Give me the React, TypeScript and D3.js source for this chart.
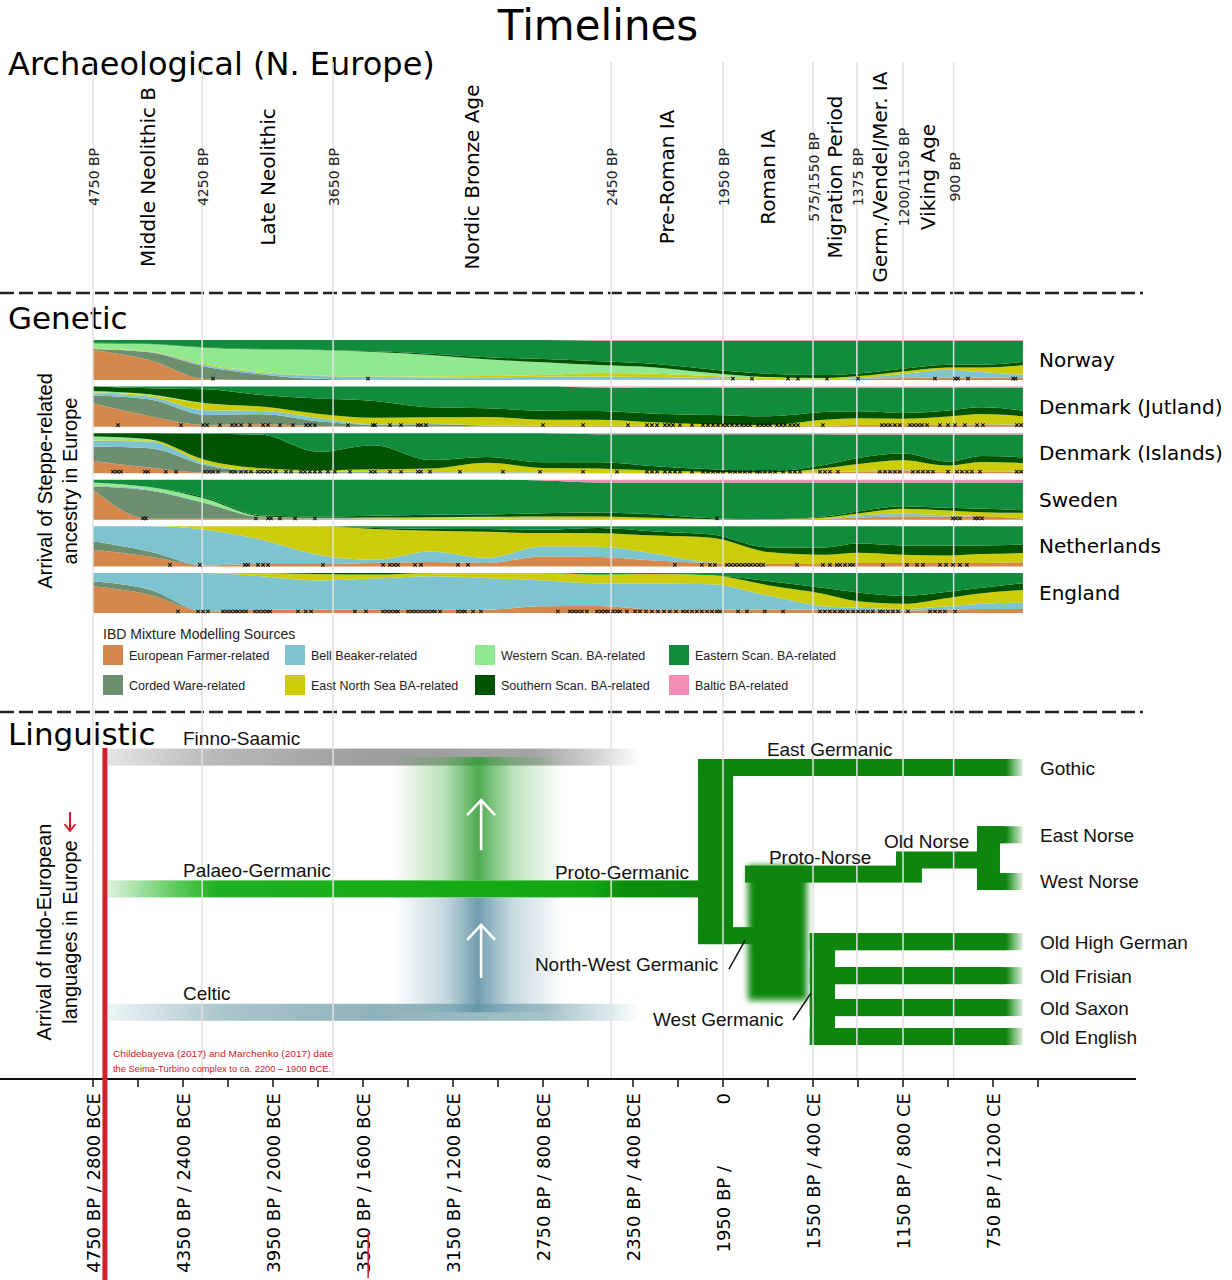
import { useEffect, useMemo } from 'react'
import * as d3 from 'd3'

const W = 1232
const H = 1280
const DEJAVU = "'DejaVu Sans', Verdana, sans-serif"
const ARIAL = "'Liberation Sans', Arial, Helvetica, sans-serif"
const GRID = '#e1e1e1'
const TREE = '#0f850f'
const RED = '#d2202c'

// shared time axis, years BP
const X_DOMAIN: [number, number] = [4750, 550]
const X_RANGE: [number, number] = [93, 1038]
const AXIS_Y = 1079
const GRID_TOP = 62

const AXIS_BP = [4750, 4350, 3950, 3550, 3150, 2750, 2350, 1950, 1550, 1150, 750]
const AXIS_LABELS = [
  '4750 BP / 2800 BCE', '4350 BP / 2400 BCE', '3950 BP / 2000 BCE', '3550 BP / 1600 BCE',
  '3150 BP / 1200 BCE', '2750 BP / 800 BCE', '2350 BP / 400 BCE', '1950 BP / 0',
  '1550 BP / 400 CE', '1150 BP / 800 CE', '750 BP / 1200 CE',
]

// archaeological periods
const ARCH_LINE_BP = [4750, 4265, 3683, 2447, 1950, 1550, 1355, 1150, 925]
const ARCH_LINE_LABELS = ['4750 BP', '4250 BP', '3650 BP', '2450 BP', '1950 BP', '575/1550 BP', '1375 BP', '1200/1150 BP', '900 BP']
const PERIODS = ['Middle Neolithic B', 'Late Neolithic', 'Nordic Bronze Age', 'Pre-Roman IA', 'Roman IA', 'Migration Period', 'Germ./Vendel/Mer. IA', 'Viking Age']

// genetic: IBD mixture sources (stack order, bottom -> top)
const SOURCES = [
  'European Farmer-related', 'Corded Ware-related', 'Bell Beaker-related', 'East North Sea BA-related',
  'Western Scan. BA-related', 'Southern Scan. BA-related', 'Eastern Scan. BA-related', 'Baltic BA-related',
]
const SOURCE_COLORS = ['#d4884b', '#6e8e70', '#7ec4d0', '#cccc0a', '#90e890', '#015201', '#108c3c', '#f38db6']
const COUNTRIES = ['Norway', 'Denmark (Jutland)', 'Denmark (Islands)', 'Sweden', 'Netherlands', 'England']
const GEN_BP = [4750, 4500, 4250, 4000, 3750, 3500, 3250, 3000, 2750, 2500, 2250, 2000, 1750, 1500, 1350, 1150, 950, 800, 617]

// [farmer, corded, beaker, ens, wsc, ssc, esc, baltic] per GEN_BP point
const NORWAY = [
  [90, 3, 0, 2, 15, 2, 8, 0], [60, 23, 2, 1, 22, 1, 11, 0], [3, 37, 5, 3, 49, 1, 22, 0], [0, 17, 5, 2, 68, 1, 27, 0],
  [0, 4, 8, 2, 76, 1, 29, 0], [0, 1, 8, 2, 73, 2, 34, 0], [0, 0, 8, 3, 64, 4, 41, 0], [0, 0, 8, 4, 50, 6, 52, 0],
  [1, 0, 9, 5, 38, 10, 57, 0], [2, 0, 9, 10, 24, 11, 62, 2], [2, 0, 7, 10, 19, 10, 70, 2], [2, 0, 4, 6, 9, 11, 86, 2],
  [1, 0, 2, 4, 2, 10, 99, 2], [1, 0, 1, 3, 1, 9, 103, 2], [3, 0, 3, 6, 0, 8, 98, 2], [6, 0, 12, 8, 0, 8, 84, 2],
  [8, 0, 23, 7, 0, 8, 72, 2], [8, 0, 16, 14, 0, 8, 72, 2], [6, 0, 10, 28, 0, 10, 64, 2],
]
const DK_JUTLAND = [
  [70, 23, 7, 2, 5, 13, 0, 0], [32, 50, 8, 4, 3, 18, 5, 0], [5, 30, 14, 20, 1, 42, 8, 0], [7, 30, 10, 13, 0, 35, 25, 0],
  [2, 14, 10, 13, 0, 45, 36, 0], [1, 4, 2, 20, 0, 50, 43, 0], [1, 6, 1, 20, 0, 30, 62, 0], [1, 2, 1, 25, 0, 26, 65, 0],
  [2, 0, 1, 18, 0, 27, 72, 0], [2, 0, 1, 18, 0, 26, 70, 3], [2, 0, 1, 10, 0, 26, 77, 4], [2, 0, 0, 5, 0, 28, 81, 4],
  [2, 0, 0, 3, 0, 26, 86, 3], [3, 0, 0, 17, 0, 23, 72, 3], [5, 0, 0, 20, 0, 20, 70, 3], [5, 0, 0, 18, 0, 17, 75, 3],
  [5, 0, 1, 24, 0, 18, 68, 3], [6, 0, 1, 30, 0, 20, 58, 3], [5, 0, 1, 25, 0, 17, 68, 3],
]
const DK_ISLANDS = [
  [37, 43, 17, 2, 11, 10, 0, 0], [17, 58, 20, 4, 3, 18, 0, 0], [2, 22, 5, 10, 1, 78, 2, 0], [1, 3, 3, 8, 0, 100, 5, 0],
  [1, 2, 2, 4, 0, 55, 56, 0], [1, 2, 3, 6, 0, 72, 36, 0], [1, 1, 2, 10, 0, 25, 80, 0], [1, 0, 2, 28, 0, 17, 70, 0],
  [1, 0, 1, 14, 0, 17, 87, 0], [1, 0, 0, 13, 0, 19, 84, 3], [1, 0, 0, 7, 0, 13, 96, 3], [1, 0, 0, 3, 0, 8, 105, 3],
  [1, 0, 0, 2, 0, 3, 111, 3], [3, 0, 0, 12, 0, 10, 92, 3], [5, 0, 1, 22, 0, 18, 70, 4], [7, 0, 2, 30, 0, 20, 57, 4],
  [5, 0, 0, 18, 0, 12, 81, 4], [5, 0, 1, 28, 0, 18, 64, 4], [5, 0, 1, 25, 0, 17, 68, 4],
]
const SWEDEN = [
  [90, 10, 3, 1, 8, 0, 8, 0], [3, 85, 3, 0, 7, 0, 22, 0], [3, 47, 0, 0, 13, 4, 53, 0], [3, 5, 0, 0, 2, 3, 107, 0],
  [2, 2, 2, 0, 0, 4, 110, 0], [2, 0, 2, 3, 0, 5, 108, 0], [2, 0, 1, 3, 2, 7, 105, 0], [2, 0, 1, 4, 2, 7, 104, 0],
  [2, 0, 2, 6, 0, 10, 98, 2], [2, 0, 0, 8, 0, 12, 90, 8], [1, 0, 0, 5, 0, 10, 96, 8], [1, 0, 0, 1, 0, 3, 107, 8],
  [1, 0, 0, 0, 0, 1, 110, 8], [3, 0, 0, 4, 0, 3, 102, 8], [7, 0, 6, 6, 0, 6, 87, 8], [11, 0, 7, 15, 0, 8, 71, 8],
  [9, 0, 4, 15, 0, 8, 76, 8], [11, 0, 0, 12, 0, 10, 79, 8], [4, 0, 0, 17, 0, 8, 83, 8],
]
const NETHERLANDS = [
  [50, 25, 45, 0, 0, 0, 0, 0], [30, 15, 75, 0, 0, 0, 0, 0], [3, 0, 107, 10, 0, 0, 0, 0], [7, 0, 73, 40, 0, 0, 0, 0],
  [7, 0, 28, 85, 0, 0, 0, 0], [10, 0, 10, 92, 0, 3, 5, 0], [13, 0, 32, 62, 0, 6, 7, 0], [10, 0, 15, 75, 0, 8, 8, 0],
  [30, 0, 30, 40, 0, 10, 10, 0], [28, 0, 30, 40, 0, 15, 5, 0], [17, 0, 20, 53, 0, 12, 15, 0], [10, 0, 2, 75, 0, 10, 25, 0],
  [7, 0, 0, 36, 0, 14, 63, 0], [7, 0, 0, 28, 0, 22, 63, 0], [10, 0, 0, 30, 0, 27, 50, 0], [10, 0, 0, 25, 0, 28, 57, 0],
  [10, 0, 0, 23, 0, 30, 57, 0], [10, 0, 0, 27, 0, 26, 57, 0], [13, 0, 0, 27, 0, 25, 55, 0],
]
const ENGLAND = [
  [80, 15, 25, 0, 0, 0, 0, 0], [55, 15, 50, 0, 0, 0, 0, 0], [5, 0, 115, 0, 0, 0, 0, 0], [10, 0, 100, 10, 0, 0, 0, 0],
  [10, 0, 87, 20, 0, 3, 0, 0], [10, 0, 93, 12, 0, 5, 0, 0], [10, 0, 100, 10, 0, 0, 0, 0], [10, 0, 95, 15, 0, 0, 0, 0],
  [20, 0, 77, 23, 0, 0, 0, 0], [20, 0, 65, 25, 0, 0, 5, 0], [10, 0, 75, 27, 0, 0, 3, 0], [10, 0, 74, 26, 0, 0, 7, 0],
  [10, 0, 40, 30, 0, 12, 23, 0], [10, 0, 10, 37, 0, 18, 45, 0], [7, 0, 8, 19, 0, 26, 57, 0], [7, 0, 5, 15, 0, 23, 67, 0],
  [10, 0, 10, 24, 0, 18, 55, 0], [12, 0, 15, 31, 0, 16, 43, 0], [12, 0, 18, 37, 0, 20, 30, 0],
]

// sample dates (BP) marked under each panel
const NORWAY_SAMPLES = [4217, 3528, 1906, 1821, 1661, 1617, 1488, 1350, 1008, 919, 906, 861, 661, 650]
const DK_JUTLAND_SAMPLES = [4639, 4359, 4261, 4243, 4186, 4132, 4114, 4092, 4052, 3994, 3972, 3919, 3861, 3803, 3786, 3764, 3617, 3506, 3497, 3430, 3381, 3306, 3292, 3270, 2750, 2572, 2372, 2288, 2266, 2243, 2208, 2190, 2172, 2141, 2088, 2039, 2017, 1994, 1972, 1950, 1932, 1910, 1888, 1866, 1848, 1830, 1795, 1777, 1759, 1741, 1710, 1692, 1674, 1652, 1634, 1617, 1506, 1244, 1226, 1208, 1186, 1164, 1119, 1101, 1083, 1066, 1043, 986, 950, 919, 875, 821, 795, 644, 625]
const DK_ISLANDS_SAMPLES = [4661, 4643, 4626, 4519, 4506, 4426, 4381, 4252, 4234, 4217, 4194, 4137, 4119, 4092, 4070, 4048, 4017, 3999, 3981, 3963, 3937, 3892, 3870, 3826, 3808, 3786, 3764, 3741, 3706, 3675, 3608, 3515, 3497, 3430, 3381, 3306, 3292, 3252, 3119, 2928, 2763, 2572, 2421, 2288, 2266, 2243, 2208, 2186, 2163, 2141, 2088, 2039, 2017, 1994, 1972, 1950, 1919, 1897, 1875, 1852, 1830, 1799, 1786, 1764, 1741, 1719, 1683, 1652, 1630, 1608, 1519, 1497, 1475, 1439, 1253, 1230, 1208, 1186, 1164, 1106, 1083, 1061, 1039, 1017, 950, 910, 888, 866, 844, 808, 644, 625]
const SWEDEN_SAMPLES = [4528, 4515, 4026, 3972, 3959, 3919, 3852, 3764, 1977, 928, 915, 897, 830, 817, 799]
const NETHERLANDS_SAMPLES = [4408, 4275, 4075, 4061, 4017, 3994, 3972, 3728, 3461, 3430, 3412, 3395, 3319, 3292, 3128, 3083, 2164, 2044, 2008, 1986, 1932, 1915, 1897, 1879, 1861, 1843, 1826, 1808, 1790, 1772, 1621, 1506, 1475, 1444, 1430, 1408, 1386, 1372, 1239, 1132, 1088, 1061, 986, 959, 928, 897, 866]
const ENGLAND_SAMPLES = [4372, 4283, 4261, 4239, 4172, 4154, 4137, 4119, 4106, 4088, 4070, 4030, 4012, 3994, 3977, 3963, 3839, 3804, 3781, 3586, 3537, 3461, 3443, 3426, 3408, 3395, 3350, 3332, 3315, 3297, 3279, 3261, 3243, 3230, 3208, 3128, 3110, 3097, 3061, 3026, 2684, 2630, 2612, 2595, 2577, 2555, 2510, 2492, 2475, 2461, 2439, 2421, 2408, 2377, 2341, 2319, 2292, 2266, 2239, 2212, 2186, 2159, 2128, 2110, 2088, 2066, 2044, 2021, 1999, 1977, 1963, 1883, 1843, 1764, 1683, 1519, 1497, 1475, 1453, 1430, 1417, 1395, 1372, 1350, 1328, 1306, 1284, 1253, 1239, 1217, 1195, 1172, 1128, 1030, 1008, 986, 964, 919]

const GENETIC = [NORWAY, DK_JUTLAND, DK_ISLANDS, SWEDEN, NETHERLANDS, ENGLAND]
const SAMPLES = [NORWAY_SAMPLES, DK_JUTLAND_SAMPLES, DK_ISLANDS_SAMPLES, SWEDEN_SAMPLES, NETHERLANDS_SAMPLES, ENGLAND_SAMPLES]

// linguistic lanes (0 = Gothic ... 8 = Old English)
const LING_BARS = [
  { id: 'finno', label: 'Finno-Saamic', lane: -0.31, from: 4683, to: 2319 },
  { id: 'palaeo', label: 'Palaeo-Germanic', lane: 3.61, from: 4683, to: 2008 },
  { id: 'celtic', label: 'Celtic', lane: 7.28, from: 4683, to: 2319 },
]
const TREE_H = [
  { lane: 0, from: 2061, to: 617, fade: true },
  { lane: 5.0, from: 2061, to: 1719, fade: false },
  { lane: 3.17, from: 1852, to: 1066, fade: false },
  { lane: 2.75, from: 1181, to: 764, fade: false },
  { lane: 2, from: 821, to: 617, fade: true },
  { lane: 3.39, from: 821, to: 617, fade: true },
  { lane: 5.18, from: 1564, to: 617, fade: true },
  { lane: 6.19, from: 1564, to: 617, fade: true },
  { lane: 7.14, from: 1564, to: 617, fade: true },
  { lane: 8, from: 1564, to: 617, fade: true },
]
const TREE_V = [
  { from: 2061, to: 1905, top: 0, bottom: 5.0 },
  { from: 821, to: 719, top: 2, bottom: 3.39 },
  { from: 1564, to: 1452, top: 5.18, bottom: 8 },
]
const NW_BLOCK = { from: 1852, to: 1564, top: 3.17, bottom: 6.67 }
const LEAVES = [
  { label: 'Gothic', lane: 0 }, { label: 'East Norse', lane: 2 }, { label: 'West Norse', lane: 3.39 },
  { label: 'Old High German', lane: 5.18 }, { label: 'Old Frisian', lane: 6.19 }, { label: 'Old Saxon', lane: 7.14 },
  { label: 'Old English', lane: 8 },
]
const NODE_LABELS = [
  { label: 'East Germanic', bp: 1755, lane: -0.34 },
  { label: 'Proto-Germanic', bp: 2697, lane: 3.32 },
  { label: 'Proto-Norse', bp: 1746, lane: 2.87 },
  { label: 'Old Norse', bp: 1235, lane: 2.39 },
  { label: 'North-West Germanic', bp: 2786, lane: 6.05 },
  { label: 'West Germanic', bp: 2261, lane: 7.69 },
]
const POINTERS = [
  { from: [1924, 6.0], to: [1852, 5.14] },
  { from: [1639, 7.51], to: [1559, 6.71] },
]
const GLOW = { from: 3416, to: 2661, center: 3025 }
const ARROWS = [
  { tip: 0.97, tail: 2.46 },
  { tip: 4.68, tail: 6.26 },
]
const IE_ARRIVAL_BP = 4697

const BAR = 17

function Cross({ cx, cy }: { cx: number; cy: number }) {
  const r = 1.7
  return <path d={`M${cx - r},${cy - r}L${cx + r},${cy + r}M${cx - r},${cy + r}L${cx + r},${cy - r}`} />
}

export default function App() {
  useEffect(() => {
    document.body.style.margin = '0'
  }, [])

  const x = useMemo(() => d3.scaleLinear().domain(X_DOMAIN).range(X_RANGE), [])
  const band = useMemo(
    () => d3.scaleBand<string>().domain(COUNTRIES).range([340, 613]).paddingInner(0.14),
    [],
  )
  const lane = useMemo(() => d3.scaleLinear().domain([0, 8]).range([767.5, 1036.5]), [])

  const panels = useMemo(() => {
    return COUNTRIES.map((name, ci) => {
      const rows = GEN_BP.map((bp, i) => {
        const v = GENETIC[ci][i]
        const s = d3.sum(v)
        const o: any = { bp }
        SOURCES.forEach((k, j) => (o[k] = v[j] / s))
        return o
      })
      const series = d3.stack<any>().keys(SOURCES)(rows)
      const top = band(name) as number
      const h = band.bandwidth()
      const y = d3.scaleLinear().domain([0, 1]).range([top + h, top])
      const area = d3
        .area<any>()
        .x((d) => x(d.data.bp))
        .y0((d) => y(d[0]))
        .y1((d) => y(d[1]))
        .curve(d3.curveMonotoneX)
      return { name, top, h, paths: series.map((s, j) => ({ d: area(s) as string, color: SOURCE_COLORS[j] })) }
    })
  }, [x, band])

  const minorTicks = d3.range(4750, 540, -200)
  const archX = ARCH_LINE_BP.map((bp) => x(bp))

  const barRect = (from: number, to: number, ln: number) => ({
    x: x(from),
    y: lane(ln) - BAR / 2,
    width: x(to) - x(from),
    height: BAR,
  })

  return (
    <svg
      width={W}
      height={H}
      viewBox={`0 0 ${W} ${H}`}
      style={{ display: 'block', position: 'absolute', left: 0, top: 0, background: '#fff' }}
    >
      <defs>
        <linearGradient id="finno" gradientUnits="userSpaceOnUse" x1={x(4683)} x2={x(2319)} y1={0} y2={0}>
          <stop offset="0" stopColor="#e4e4e4" />
          <stop offset="0.2" stopColor="#b9b9b9" />
          <stop offset="0.5" stopColor="#9c9c9c" />
          <stop offset="0.8" stopColor="#a4a4a4" />
          <stop offset="0.92" stopColor="#d4d4d4" />
          <stop offset="1" stopColor="#ffffff" />
        </linearGradient>
        <linearGradient id="palaeo" gradientUnits="userSpaceOnUse" x1={x(4683)} x2={x(2008)} y1={0} y2={0}>
          <stop offset="0" stopColor="#dcf2dc" />
          <stop offset="0.1" stopColor="#6ccf6c" />
          <stop offset="0.18" stopColor="#1fb11f" />
          <stop offset="0.8" stopColor="#12a712" />
          <stop offset="0.86" stopColor="#0c8d0c" />
          <stop offset="1" stopColor="#0d860d" />
        </linearGradient>
        <linearGradient id="celtic" gradientUnits="userSpaceOnUse" x1={x(4683)} x2={x(2319)} y1={0} y2={0}>
          <stop offset="0" stopColor="#eef4f5" />
          <stop offset="0.22" stopColor="#a9c5cc" />
          <stop offset="0.5" stopColor="#8fb3bc" />
          <stop offset="0.82" stopColor="#a3c1c8" />
          <stop offset="0.93" stopColor="#d6e5e8" />
          <stop offset="1" stopColor="#ffffff" />
        </linearGradient>
        <linearGradient id="greenGlow" gradientUnits="userSpaceOnUse" x1={x(GLOW.from)} x2={x(GLOW.to)} y1={0} y2={0}>
          <stop offset="0" stopColor="#3aa83a" stopOpacity="0" />
          <stop offset="0.3" stopColor="#3aa83a" stopOpacity="0.35" />
          <stop offset="0.5" stopColor="#2f9a2f" stopOpacity="0.85" />
          <stop offset="0.7" stopColor="#3aa83a" stopOpacity="0.35" />
          <stop offset="1" stopColor="#3aa83a" stopOpacity="0" />
        </linearGradient>
        <linearGradient id="blueGlow" gradientUnits="userSpaceOnUse" x1={x(GLOW.from)} x2={x(GLOW.to)} y1={0} y2={0}>
          <stop offset="0" stopColor="#6f9fb0" stopOpacity="0" />
          <stop offset="0.3" stopColor="#6f9fb0" stopOpacity="0.4" />
          <stop offset="0.5" stopColor="#5f93a5" stopOpacity="0.9" />
          <stop offset="0.7" stopColor="#6f9fb0" stopOpacity="0.4" />
          <stop offset="1" stopColor="#6f9fb0" stopOpacity="0" />
        </linearGradient>
        <linearGradient id="endFade" gradientUnits="userSpaceOnUse" x1={1006} x2={1025} y1={0} y2={0}>
          <stop offset="0" stopColor={TREE} stopOpacity="1" />
          <stop offset="1" stopColor={TREE} stopOpacity="0" />
        </linearGradient>
        <filter id="soft" x="-30%" y="-10%" width="160%" height="120%">
          <feGaussianBlur stdDeviation="3" />
        </filter>
      </defs>

      {/* Title */}
      <text x={598} y={40} fontFamily={DEJAVU} fontSize={42} textAnchor="middle" fill="#000">
        Timelines
      </text>

      {/* section headers */}
      <g fontFamily={DEJAVU} fontSize={31} fill="#000">
        <text x={8} y={75} fontSize={32}>Archaeological (N. Europe)</text>
        <text x={8} y={329}>Genetic</text>
        <text x={8} y={745}>Linguistic</text>
      </g>

      {/* dashed separators */}
      {[293, 712].map((yy) => (
        <line key={yy} x1={0} x2={1143} y1={yy} y2={yy} stroke="#222" strokeWidth={2.4} strokeDasharray="14 5" />
      ))}

      {/* genetic stacked areas */}
      {panels.map((p) => (
        <g key={p.name}>
          {p.paths.map((a, j) => (
            <path key={j} d={a.d} fill={a.color} stroke="none" />
          ))}
        </g>
      ))}

      {/* linguistic bars */}
      {LING_BARS.map((b) => {
        const r = barRect(b.from, b.to, b.lane)
        return <rect key={b.id} {...r} fill={`url(#${b.id})`} />
      })}
      <rect
        x={x(GLOW.from)}
        y={lane(LING_BARS[0].lane)}
        width={x(GLOW.to) - x(GLOW.from)}
        height={lane(LING_BARS[1].lane) - BAR / 2 - lane(LING_BARS[0].lane)}
        fill="url(#greenGlow)"
      />
      <rect
        x={x(GLOW.from)}
        y={lane(LING_BARS[1].lane) + BAR / 2}
        width={x(GLOW.to) - x(GLOW.from)}
        height={lane(LING_BARS[2].lane) - lane(LING_BARS[1].lane) - BAR / 2}
        fill="url(#blueGlow)"
      />
      {ARROWS.map((a, i) => {
        const cx = x(GLOW.center)
        const tip = lane(a.tip)
        const tail = lane(a.tail)
        return (
          <path
            key={i}
            d={`M${cx},${tail}L${cx},${tip}M${cx - 14},${tip + 15}L${cx},${tip}L${cx + 14},${tip + 15}`}
            fill="none"
            stroke="#fff"
            strokeWidth={2.6}
          />
        )
      })}

      {/* language tree */}
      <rect
        x={x(NW_BLOCK.from) + 3}
        y={lane(NW_BLOCK.top) - BAR / 2}
        width={x(NW_BLOCK.to) - x(NW_BLOCK.from) - 6}
        height={lane(NW_BLOCK.bottom) - lane(NW_BLOCK.top) + BAR}
        fill={TREE}
        filter="url(#soft)"
      />
      <rect
        x={x(NW_BLOCK.from) + 24}
        y={lane(NW_BLOCK.top)}
        width={x(NW_BLOCK.to) - x(NW_BLOCK.from) - 36}
        height={lane(NW_BLOCK.bottom) - lane(NW_BLOCK.top)}
        fill={TREE}
      />
      {TREE_V.map((v, i) => (
        <rect
          key={i}
          x={x(v.from)}
          y={lane(v.top) - BAR / 2}
          width={x(v.to) - x(v.from)}
          height={lane(v.bottom) - lane(v.top) + BAR}
          fill={TREE}
        />
      ))}
      {TREE_H.map((b, i) => (
        <rect key={i} {...barRect(b.from, b.to, b.lane)} fill={b.fade ? 'url(#endFade)' : TREE} />
      ))}
      {TREE_H.filter((b) => b.fade).map((b, i) => (
        <rect key={`s${i}`} {...barRect(b.from, 700, b.lane)} fill={TREE} />
      ))}

      {/* vertical grid lines over everything */}
      {archX.map((gx, i) => (
        <line key={i} x1={gx} x2={gx} y1={GRID_TOP} y2={AXIS_Y} stroke={GRID} strokeWidth={1.5} />
      ))}

      {/* sample markers */}
      <g stroke="#111" strokeWidth={1.1}>
        {panels.map((p, ci) =>
          SAMPLES[ci].map((bp, k) => <Cross key={`${ci}-${k}`} cx={x(bp)} cy={p.top + p.h - 1.5} />),
        )}
      </g>

      {/* archaeological labels */}
      {ARCH_LINE_LABELS.map((t, i) => (
        <text
          key={t}
          transform={`translate(${archX[i] + 1},177) rotate(-90)`}
          textAnchor="middle"
          dominantBaseline="central"
          fontFamily={DEJAVU}
          fontSize={14}
          fill="#222"
        >
          {t}
        </text>
      ))}
      {PERIODS.map((t, i) => (
        <text
          key={t}
          transform={`translate(${x((ARCH_LINE_BP[i] + ARCH_LINE_BP[i + 1]) / 2)},177) rotate(-90)`}
          textAnchor="middle"
          dominantBaseline="central"
          fontFamily={DEJAVU}
          fontSize={20}
          fill="#000"
        >
          {t}
        </text>
      ))}

      {/* country labels */}
      {panels.map((p) => (
        <text key={p.name} x={1039} y={p.top + p.h / 2 + 7} fontFamily={DEJAVU} fontSize={20} fill="#000">
          {p.name}
        </text>
      ))}

      {/* rotated y labels */}
      <g fontFamily={ARIAL} fontSize={20} fill="#000" textAnchor="middle" dominantBaseline="central">
        <text transform="translate(45,481) rotate(-90)">Arrival of Steppe-related</text>
        <text transform="translate(70,481) rotate(-90)">ancestry in Europe</text>
        <text transform="translate(44,932) rotate(-90)">Arrival of Indo-European</text>
        <text transform="translate(70,932) rotate(-90)">languages in Europe</text>
      </g>
      <path d="M70,812L70,830M64.5,824L70,831L75.5,824" fill="none" stroke={RED} strokeWidth={2} />

      {/* legend */}
      <g fontFamily={ARIAL} fill="#222">
        <text x={103} y={639} fontSize={14}>
          IBD Mixture Modelling Sources
        </text>
        {SOURCES.map((s, i) => {
          const lx = [103, 285, 475, 669][Math.floor(i / 2)]
          const ly = 645 + (i % 2) * 30
          return (
            <g key={s}>
              <rect x={lx} y={ly} width={20} height={20} fill={SOURCE_COLORS[i]} />
              <text x={lx + 26} y={ly + 15} fontSize={12.5}>
                {s}
              </text>
            </g>
          )
        })}
      </g>

      {/* linguistic labels */}
      <g fontFamily={ARIAL} fontSize={19} fill="#111">
        {LING_BARS.map((b) => (
          <text key={b.id} x={x(4350)} y={lane(b.lane) - 12}>
            {b.label}
          </text>
        ))}
        {NODE_LABELS.map((n) => (
          <text key={n.label} x={x(n.bp)} y={lane(n.lane)}>
            {n.label}
          </text>
        ))}
        {LEAVES.map((l) => (
          <text key={l.label} x={1040} y={lane(l.lane) + 7}>
            {l.label}
          </text>
        ))}
      </g>
      {POINTERS.map((p, i) => (
        <line
          key={i}
          x1={x(p.from[0])}
          y1={lane(p.from[1])}
          x2={x(p.to[0])}
          y2={lane(p.to[1])}
          stroke="#111"
          strokeWidth={1.5}
        />
      ))}

      {/* note */}
      <g fontFamily={ARIAL} fontSize={9} fill={RED}>
        <text x={113} y={1057} textLength={220} lengthAdjust="spacingAndGlyphs">
          Childebayeva (2017) and Marchenko (2017) date
        </text>
        <text x={113} y={1072} textLength={218} lengthAdjust="spacingAndGlyphs">
          the Seima-Turbino complex to ca. 2200 – 1900 BCE.
        </text>
      </g>

      {/* bottom axis */}
      <line x1={0} x2={1136} y1={AXIS_Y} y2={AXIS_Y} stroke="#111" strokeWidth={2} />
      {minorTicks.map((bp) => (
        <line key={bp} x1={x(bp)} x2={x(bp)} y1={AXIS_Y} y2={AXIS_Y + 8} stroke="#111" strokeWidth={1.5} />
      ))}
      <g fontFamily={DEJAVU} fontSize={18} fill="#000">
        {AXIS_BP.map((bp, i) => {
          const [left, right] = AXIS_LABELS[i].split(' / ')
          if (right === '0') {
            return (
              <g key={bp}>
                <text transform={`translate(${x(bp)},1093) rotate(-90)`} textAnchor="end" dominantBaseline="central">
                  {right}
                </text>
                <text transform={`translate(${x(bp)},1166) rotate(-90)`} textAnchor="end" dominantBaseline="central">
                  {left} /
                </text>
              </g>
            )
          }
          return (
            <text
              key={bp}
              transform={`translate(${x(bp)},1093) rotate(-90)`}
              textAnchor="end"
              dominantBaseline="central"
            >
              {AXIS_LABELS[i]}
            </text>
          )
        })}
      </g>

      {/* arrival of Indo-European languages */}
      <line x1={x(IE_ARRIVAL_BP)} x2={x(IE_ARRIVAL_BP)} y1={748} y2={H} stroke={RED} strokeWidth={5} />
      <line x1={x(3527)} x2={x(3527)} y1={1233} y2={1278} stroke={RED} strokeWidth={1.5} />
    </svg>
  )
}
